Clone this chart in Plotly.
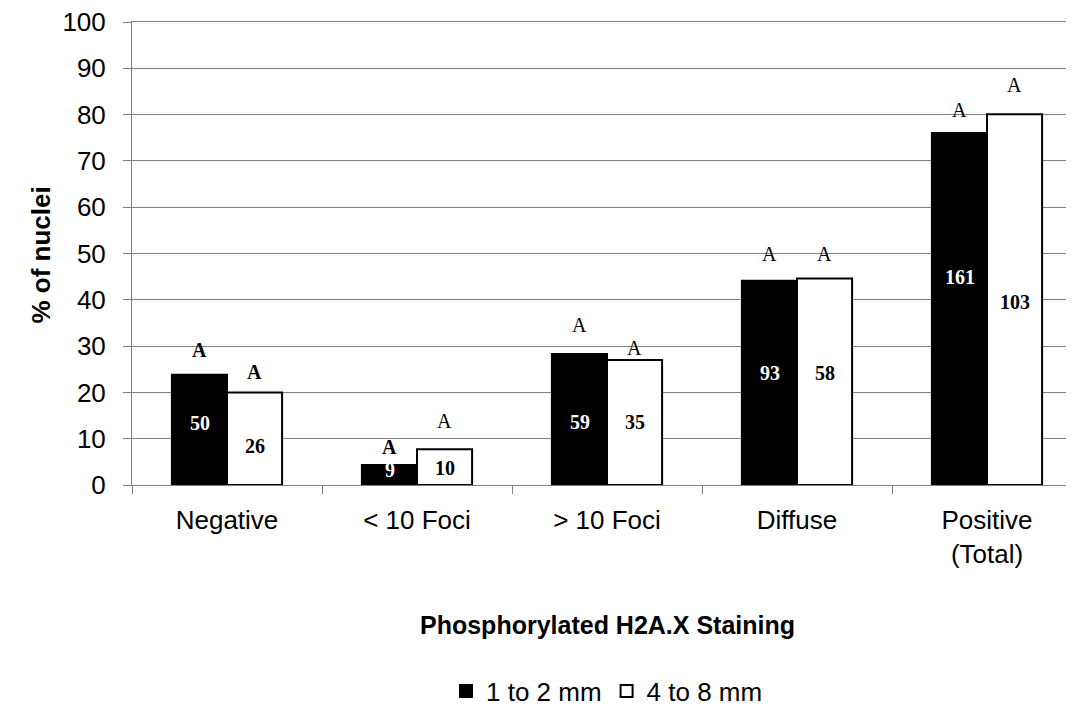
import plotly.graph_objects as go

# categories on the x axis
categories = ["Negative", "< 10 Foci", "> 10 Foci", "Diffuse", "Positive<br>(Total)"]

# % of nuclei per group
pct_small = [23.8, 4.3, 28.3, 44.1, 76.0]   # 1 to 2 mm
pct_large = [20.0, 7.7, 27.0, 44.6, 80.1]   # 4 to 8 mm

# nuclei counts printed inside the bars, and the height they sit at
n_small = [50, 9, 59, 93, 161]
n_large = [26, 10, 35, 58, 103]
n_small_y = [13.4, 3.2, 13.7, 24.2, 45.0]
n_large_y = [8.4, 3.7, 13.7, 24.2, 39.6]

# significance letters above the bars
letter_small = ["A", "A", "A", "A", "A"]
letter_large = ["A", "A", "A", "A", "A"]
letter_small_y = [29.2, 8.3, 34.6, 50.0, 81.1]
letter_large_y = [24.3, 13.9, 29.5, 50.0, 86.4]
letter_small_bold = [True, True, False, False, False]
letter_large_bold = [True, False, False, False, False]

y_ticks = [0, 10, 20, 30, 40, 50, 60, 70, 80, 90, 100]

SANS = "Liberation Sans, Arial, sans-serif"
SERIF = "Liberation Serif, Times New Roman, serif"

fig = go.Figure()
fig.add_trace(go.Bar(
    x=categories, y=pct_small, name="1 to 2 mm",
    marker=dict(color="black", line=dict(color="black", width=2)),
))
fig.add_trace(go.Bar(
    x=categories, y=pct_large, name="4 to 8 mm",
    marker=dict(color="white", line=dict(color="black", width=2)),
))

# half a bar width in px, to put texts over each bar of a group
shift = 27.5
for i, cat in enumerate(categories):
    for txt, ty, col, dx in [(n_small[i], n_small_y[i], "white", -shift),
                             (n_large[i], n_large_y[i], "black", shift)]:
        fig.add_annotation(x=cat, y=ty, text="<b>%d</b>" % txt, showarrow=False,
                           xshift=dx, font=dict(family=SERIF, size=20, color=col))
    for txt, ty, bold, dx in [(letter_small[i], letter_small_y[i], letter_small_bold[i], -shift),
                              (letter_large[i], letter_large_y[i], letter_large_bold[i], shift)]:
        fig.add_annotation(x=cat, y=ty, text="<b>%s</b>" % txt if bold else txt,
                           showarrow=False, xshift=dx,
                           font=dict(family=SERIF, size=20, color="black"))

fig.add_annotation(xref="paper", yref="paper", x=0.5, y=-0.302, yanchor="middle",
                   text="<b>Phosphorylated H2A.X Staining</b>", showarrow=False,
                   font=dict(family=SANS, size=25, color="black"))
fig.add_annotation(xref="paper", yref="paper", x=-0.114, y=0.497, textangle=-90,
                   text="<b>% of nuclei</b>", showarrow=False,
                   font=dict(family=SANS, size=26, color="black"))

fig.update_layout(
    width=1074, height=707,
    margin=dict(l=124, r=0, t=14, b=230),
    plot_bgcolor="white", paper_bgcolor="white",
    barmode="group", bargap=0.42, bargroupgap=0,
    font=dict(family=SANS, size=26, color="black"),
    showlegend=True,
    legend=dict(orientation="h", x=0.5, xanchor="center", y=-0.445, yanchor="middle",
                font=dict(family=SANS, size=26), itemwidth=30, tracegroupgap=0),
)
fig.update_xaxes(
    showline=True, linecolor="#808080", linewidth=1, mirror=True,
    ticks="outside", tickson="boundaries", ticklen=8, tickcolor="#808080",
    showgrid=False, tickfont=dict(size=26), ticklabelstandoff=12,
)
fig.update_yaxes(
    range=[0, 100], tickmode="array", tickvals=y_ticks,
    showline=True, linecolor="#808080", linewidth=1,
    ticks="outside", ticklen=8, tickcolor="#808080",
    showgrid=True, gridcolor="#808080", gridwidth=1,
    tickfont=dict(size=26), ticklabelstandoff=12, zeroline=False,
    ticklabeloverflow="allow",
)

fig.write_html("out.html")
